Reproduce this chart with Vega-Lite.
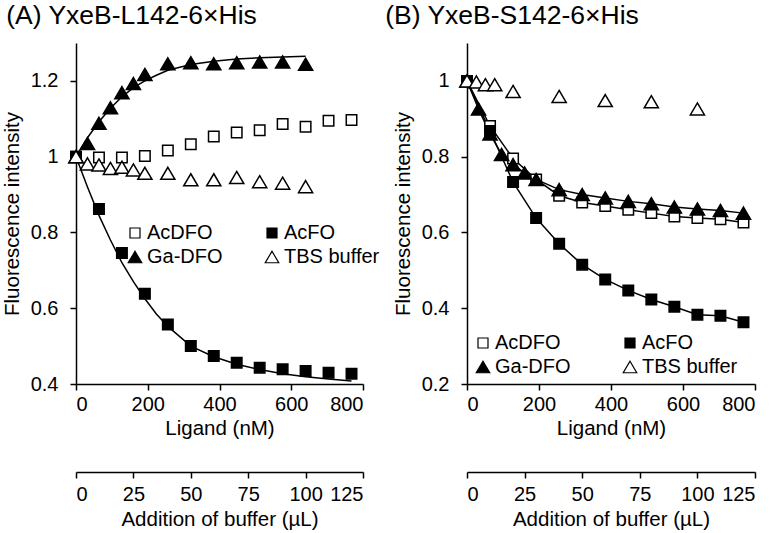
{
  "$schema": "https://vega.github.io/schema/vega-lite/v6.json",
  "padding": {"left": 2, "top": 2, "right": 2, "bottom": 2},
  "config": {
    "font": "Liberation Sans",
    "view": {"stroke": null},
    "axis": {
      "domainColor": "black", "domainWidth": 1.5, "tickColor": "black", "tickWidth": 1.5, "tickSize": 6,
      "labelFont": "Liberation Sans", "labelFontSize": 20, "labelColor": "black",
      "titleFont": "Liberation Sans", "titleFontSize": 20.5, "titleFontWeight": "normal", "titleColor": "black",
      "grid": false
    },
    "legend": {
      "title": null, "orient": "none", "columns": 2, "direction": "horizontal",
      "labelFont": "Liberation Sans", "labelFontSize": 20, "labelColor": "black",
      "symbolStrokeColor": "black", "symbolStrokeWidth": 1.2, "symbolSize": 100,
      "labelOffset": 2, "rowPadding": 4, "padding": 0
    },
    "title": {"font": "Liberation Sans", "fontSize": 26.5, "fontWeight": "normal", "anchor": "start", "color": "black"}
  },
  "datasets": {
    "pts": [
      {"panel": "A", "series": "AcDFO", "x": 0, "y": 1.0},
      {"panel": "A", "series": "AcDFO", "x": 64, "y": 0.998},
      {"panel": "A", "series": "AcDFO", "x": 128, "y": 0.998},
      {"panel": "A", "series": "AcDFO", "x": 192, "y": 1.002},
      {"panel": "A", "series": "AcDFO", "x": 256, "y": 1.016},
      {"panel": "A", "series": "AcDFO", "x": 320, "y": 1.033},
      {"panel": "A", "series": "AcDFO", "x": 384, "y": 1.053},
      {"panel": "A", "series": "AcDFO", "x": 448, "y": 1.064},
      {"panel": "A", "series": "AcDFO", "x": 512, "y": 1.07},
      {"panel": "A", "series": "AcDFO", "x": 576, "y": 1.086},
      {"panel": "A", "series": "AcDFO", "x": 640, "y": 1.079},
      {"panel": "A", "series": "AcDFO", "x": 704, "y": 1.095},
      {"panel": "A", "series": "AcDFO", "x": 768, "y": 1.097},
      {"panel": "A", "series": "AcFO", "x": 0, "y": 1.0},
      {"panel": "A", "series": "AcFO", "x": 64, "y": 0.862},
      {"panel": "A", "series": "AcFO", "x": 128, "y": 0.746},
      {"panel": "A", "series": "AcFO", "x": 192, "y": 0.638},
      {"panel": "A", "series": "AcFO", "x": 256, "y": 0.557},
      {"panel": "A", "series": "AcFO", "x": 320, "y": 0.5},
      {"panel": "A", "series": "AcFO", "x": 384, "y": 0.474},
      {"panel": "A", "series": "AcFO", "x": 448, "y": 0.456},
      {"panel": "A", "series": "AcFO", "x": 512, "y": 0.443},
      {"panel": "A", "series": "AcFO", "x": 576, "y": 0.439},
      {"panel": "A", "series": "AcFO", "x": 640, "y": 0.434},
      {"panel": "A", "series": "AcFO", "x": 704, "y": 0.43},
      {"panel": "A", "series": "AcFO", "x": 768, "y": 0.427},
      {"panel": "A", "series": "Ga-DFO", "x": 0, "y": 1.0},
      {"panel": "A", "series": "Ga-DFO", "x": 32, "y": 1.035},
      {"panel": "A", "series": "Ga-DFO", "x": 64, "y": 1.088},
      {"panel": "A", "series": "Ga-DFO", "x": 96, "y": 1.129},
      {"panel": "A", "series": "Ga-DFO", "x": 128, "y": 1.169},
      {"panel": "A", "series": "Ga-DFO", "x": 160, "y": 1.193},
      {"panel": "A", "series": "Ga-DFO", "x": 192, "y": 1.217},
      {"panel": "A", "series": "Ga-DFO", "x": 256, "y": 1.245},
      {"panel": "A", "series": "Ga-DFO", "x": 320, "y": 1.248},
      {"panel": "A", "series": "Ga-DFO", "x": 384, "y": 1.245},
      {"panel": "A", "series": "Ga-DFO", "x": 448, "y": 1.248},
      {"panel": "A", "series": "Ga-DFO", "x": 512, "y": 1.25},
      {"panel": "A", "series": "Ga-DFO", "x": 576, "y": 1.25},
      {"panel": "A", "series": "Ga-DFO", "x": 640, "y": 1.244},
      {"panel": "A", "series": "TBS buffer", "x": 0, "y": 1.0},
      {"panel": "A", "series": "TBS buffer", "x": 32, "y": 0.981},
      {"panel": "A", "series": "TBS buffer", "x": 64, "y": 0.978},
      {"panel": "A", "series": "TBS buffer", "x": 96, "y": 0.969},
      {"panel": "A", "series": "TBS buffer", "x": 128, "y": 0.972},
      {"panel": "A", "series": "TBS buffer", "x": 160, "y": 0.965},
      {"panel": "A", "series": "TBS buffer", "x": 192, "y": 0.956},
      {"panel": "A", "series": "TBS buffer", "x": 256, "y": 0.956},
      {"panel": "A", "series": "TBS buffer", "x": 320, "y": 0.939},
      {"panel": "A", "series": "TBS buffer", "x": 384, "y": 0.939},
      {"panel": "A", "series": "TBS buffer", "x": 448, "y": 0.945},
      {"panel": "A", "series": "TBS buffer", "x": 512, "y": 0.934},
      {"panel": "A", "series": "TBS buffer", "x": 576, "y": 0.93},
      {"panel": "A", "series": "TBS buffer", "x": 640, "y": 0.921},
      {"panel": "B", "series": "AcDFO", "x": 0, "y": 1.0},
      {"panel": "B", "series": "AcDFO", "x": 64, "y": 0.881},
      {"panel": "B", "series": "AcDFO", "x": 128, "y": 0.795},
      {"panel": "B", "series": "AcDFO", "x": 192, "y": 0.74},
      {"panel": "B", "series": "AcDFO", "x": 256, "y": 0.697},
      {"panel": "B", "series": "AcDFO", "x": 320, "y": 0.679},
      {"panel": "B", "series": "AcDFO", "x": 384, "y": 0.67},
      {"panel": "B", "series": "AcDFO", "x": 448, "y": 0.66},
      {"panel": "B", "series": "AcDFO", "x": 512, "y": 0.651},
      {"panel": "B", "series": "AcDFO", "x": 576, "y": 0.642},
      {"panel": "B", "series": "AcDFO", "x": 640, "y": 0.638},
      {"panel": "B", "series": "AcDFO", "x": 704, "y": 0.635},
      {"panel": "B", "series": "AcDFO", "x": 768, "y": 0.626},
      {"panel": "B", "series": "AcFO", "x": 0, "y": 1.0},
      {"panel": "B", "series": "AcFO", "x": 64, "y": 0.868},
      {"panel": "B", "series": "AcFO", "x": 128, "y": 0.733},
      {"panel": "B", "series": "AcFO", "x": 192, "y": 0.638},
      {"panel": "B", "series": "AcFO", "x": 256, "y": 0.57},
      {"panel": "B", "series": "AcFO", "x": 320, "y": 0.515},
      {"panel": "B", "series": "AcFO", "x": 384, "y": 0.476},
      {"panel": "B", "series": "AcFO", "x": 448, "y": 0.447},
      {"panel": "B", "series": "AcFO", "x": 512, "y": 0.423},
      {"panel": "B", "series": "AcFO", "x": 576, "y": 0.404},
      {"panel": "B", "series": "AcFO", "x": 640, "y": 0.383},
      {"panel": "B", "series": "AcFO", "x": 704, "y": 0.38},
      {"panel": "B", "series": "AcFO", "x": 768, "y": 0.363},
      {"panel": "B", "series": "Ga-DFO", "x": 0, "y": 1.0},
      {"panel": "B", "series": "Ga-DFO", "x": 32, "y": 0.926},
      {"panel": "B", "series": "Ga-DFO", "x": 64, "y": 0.86},
      {"panel": "B", "series": "Ga-DFO", "x": 96, "y": 0.806},
      {"panel": "B", "series": "Ga-DFO", "x": 128, "y": 0.779},
      {"panel": "B", "series": "Ga-DFO", "x": 160, "y": 0.757},
      {"panel": "B", "series": "Ga-DFO", "x": 192, "y": 0.74},
      {"panel": "B", "series": "Ga-DFO", "x": 256, "y": 0.713},
      {"panel": "B", "series": "Ga-DFO", "x": 320, "y": 0.7},
      {"panel": "B", "series": "Ga-DFO", "x": 384, "y": 0.691},
      {"panel": "B", "series": "Ga-DFO", "x": 448, "y": 0.682},
      {"panel": "B", "series": "Ga-DFO", "x": 512, "y": 0.676},
      {"panel": "B", "series": "Ga-DFO", "x": 576, "y": 0.667},
      {"panel": "B", "series": "Ga-DFO", "x": 640, "y": 0.662},
      {"panel": "B", "series": "Ga-DFO", "x": 704, "y": 0.658},
      {"panel": "B", "series": "Ga-DFO", "x": 768, "y": 0.651},
      {"panel": "B", "series": "TBS buffer", "x": 0, "y": 1.0},
      {"panel": "B", "series": "TBS buffer", "x": 26, "y": 0.997},
      {"panel": "B", "series": "TBS buffer", "x": 51, "y": 0.99},
      {"panel": "B", "series": "TBS buffer", "x": 77, "y": 0.99},
      {"panel": "B", "series": "TBS buffer", "x": 128, "y": 0.972},
      {"panel": "B", "series": "TBS buffer", "x": 256, "y": 0.959},
      {"panel": "B", "series": "TBS buffer", "x": 384, "y": 0.948},
      {"panel": "B", "series": "TBS buffer", "x": 512, "y": 0.945},
      {"panel": "B", "series": "TBS buffer", "x": 640, "y": 0.926}
    ],
    "fit": [
      {"series": "AcFO", "x": 0, "y": 1.0},
      {"series": "AcFO", "x": 32, "y": 0.92},
      {"series": "AcFO", "x": 64, "y": 0.845},
      {"series": "AcFO", "x": 96, "y": 0.78},
      {"series": "AcFO", "x": 128, "y": 0.72},
      {"series": "AcFO", "x": 160, "y": 0.67},
      {"series": "AcFO", "x": 192, "y": 0.625},
      {"series": "AcFO", "x": 224, "y": 0.585},
      {"series": "AcFO", "x": 256, "y": 0.552},
      {"series": "AcFO", "x": 320, "y": 0.5},
      {"series": "AcFO", "x": 384, "y": 0.472},
      {"series": "AcFO", "x": 448, "y": 0.452},
      {"series": "AcFO", "x": 512, "y": 0.438},
      {"series": "AcFO", "x": 576, "y": 0.427},
      {"series": "AcFO", "x": 640, "y": 0.419},
      {"series": "AcFO", "x": 704, "y": 0.413},
      {"series": "AcFO", "x": 768, "y": 0.408},
      {"series": "Ga-DFO", "x": 0, "y": 1.0},
      {"series": "Ga-DFO", "x": 32, "y": 1.05},
      {"series": "Ga-DFO", "x": 64, "y": 1.092},
      {"series": "Ga-DFO", "x": 96, "y": 1.128},
      {"series": "Ga-DFO", "x": 128, "y": 1.158},
      {"series": "Ga-DFO", "x": 160, "y": 1.182},
      {"series": "Ga-DFO", "x": 192, "y": 1.2},
      {"series": "Ga-DFO", "x": 224, "y": 1.215},
      {"series": "Ga-DFO", "x": 256, "y": 1.228},
      {"series": "Ga-DFO", "x": 320, "y": 1.243},
      {"series": "Ga-DFO", "x": 384, "y": 1.252},
      {"series": "Ga-DFO", "x": 448, "y": 1.258},
      {"series": "Ga-DFO", "x": 512, "y": 1.261},
      {"series": "Ga-DFO", "x": 576, "y": 1.263},
      {"series": "Ga-DFO", "x": 640, "y": 1.265}
    ],
    "buf": [{"b": 0}, {"b": 125}]
  },
  "spacing": 5,
  "resolve": {"legend": {"shape": "independent", "fill": "independent", "stroke": "independent"}},
  "hconcat": [
    {
      "title": {"text": "(A) YxeB-L142-6×His", "offset": 14, "dx": 4},
      "width": 287, "height": 341,
      "layer": [
        {
          "layer": [
            {
              "data": {"name": "fit"},
              "mark": {"type": "line", "color": "black", "strokeWidth": 1.5},
              "encoding": {
                "x": {"field": "x", "type": "quantitative", "scale": {"domain": [0, 800], "nice": false}, "axis": {"values": [0, 200, 400, 600, 800], "title": "Ligand (nM)", "labelPadding": 4, "titlePadding": 4}},
                "y": {"field": "y", "type": "quantitative", "scale": {"domain": [0.4, 1.3], "nice": false, "zero": false}, "axis": {"values": [0.4, 0.6, 0.8, 1, 1.2], "format": "~g", "title": "Fluorescence intensity", "labelPadding": 12, "titlePadding": 8}},
                "detail": {"field": "series"}
              }
            },
            {
              "data": {"name": "pts"},
              "transform": [{"filter": "datum.panel === 'A'"}],
              "mark": {"type": "point", "filled": true, "strokeWidth": 1.5, "opacity": 1, "size": 110},
              "encoding": {
                "x": {"field": "x", "type": "quantitative"},
                "y": {"field": "y", "type": "quantitative"},
                "shape": {"field": "series", "type": "nominal", "scale": {"domain": ["AcDFO", "AcFO", "Ga-DFO", "TBS buffer"], "range": ["square", "square", "M0,-1.15L1.35,1.15L-1.35,1.15Z", "M0,-1.15L1.35,1.15L-1.35,1.15Z"]}, "legend": {"legendX": 49, "legendY": 180, "columnPadding": 39}},
                "fill": {"field": "series", "type": "nominal", "scale": {"domain": ["AcDFO", "AcFO", "Ga-DFO", "TBS buffer"], "range": ["white", "black", "black", "white"]}, "legend": {"legendX": 49, "legendY": 180, "columnPadding": 39}},
                "stroke": {"field": "series", "type": "nominal", "scale": {"domain": ["AcDFO", "AcFO", "Ga-DFO", "TBS buffer"], "range": ["black", "black", "black", "black"]}, "legend": {"legendX": 49, "legendY": 180, "columnPadding": 39}}
              }
            }
          ]
        },
        {
          "data": {"name": "buf"},
          "mark": {"type": "point", "opacity": 0},
          "encoding": {
            "x": {"field": "b", "type": "quantitative", "scale": {"domain": [0, 125], "nice": false}, "axis": {"orient": "bottom", "offset": 88, "values": [0, 25, 50, 75, 100, 125], "title": "Addition of buffer (µL)", "labelPadding": 6, "titlePadding": 5}}
          }
        }
      ],
      "resolve": {"scale": {"x": "independent"}}
    },
    {
      "title": {"text": "(B) YxeB-S142-6×His", "offset": 14, "dx": -8},
      "width": 288, "height": 341,
      "layer": [
        {
          "layer": [
            {
              "data": {"name": "pts"},
              "transform": [{"filter": "datum.panel === 'B' && datum.series !== 'TBS buffer'"}],
              "mark": {"type": "line", "color": "black", "strokeWidth": 1.5},
              "encoding": {
                "x": {"field": "x", "type": "quantitative", "scale": {"domain": [0, 800], "nice": false}, "axis": {"values": [0, 200, 400, 600, 800], "title": "Ligand (nM)", "labelPadding": 4, "titlePadding": 4}},
                "y": {"field": "y", "type": "quantitative", "scale": {"domain": [0.2, 1.1], "nice": false, "zero": false}, "axis": {"values": [0.2, 0.4, 0.6, 0.8, 1], "format": "~g", "title": "Fluorescence intensity", "labelPadding": 12, "titlePadding": 8}},
                "detail": {"field": "series"}
              }
            },
            {
              "data": {"name": "pts"},
              "transform": [{"filter": "datum.panel === 'B'"}],
              "mark": {"type": "point", "filled": true, "strokeWidth": 1.5, "opacity": 1, "size": 110},
              "encoding": {
                "x": {"field": "x", "type": "quantitative"},
                "y": {"field": "y", "type": "quantitative"},
                "shape": {"field": "series", "type": "nominal", "scale": {"domain": ["AcDFO", "AcFO", "Ga-DFO", "TBS buffer"], "range": ["square", "square", "M0,-1.15L1.35,1.15L-1.35,1.15Z", "M0,-1.15L1.35,1.15L-1.35,1.15Z"]}, "legend": {"legendX": 6, "legendY": 290, "columnPadding": 49}},
                "fill": {"field": "series", "type": "nominal", "scale": {"domain": ["AcDFO", "AcFO", "Ga-DFO", "TBS buffer"], "range": ["white", "black", "black", "white"]}, "legend": {"legendX": 6, "legendY": 290, "columnPadding": 49}},
                "stroke": {"field": "series", "type": "nominal", "scale": {"domain": ["AcDFO", "AcFO", "Ga-DFO", "TBS buffer"], "range": ["black", "black", "black", "black"]}, "legend": {"legendX": 6, "legendY": 290, "columnPadding": 49}}
              }
            }
          ]
        },
        {
          "data": {"name": "buf"},
          "mark": {"type": "point", "opacity": 0},
          "encoding": {
            "x": {"field": "b", "type": "quantitative", "scale": {"domain": [0, 125], "nice": false}, "axis": {"orient": "bottom", "offset": 88, "values": [0, 25, 50, 75, 100, 125], "title": "Addition of buffer (µL)", "labelPadding": 6, "titlePadding": 5}}
          }
        }
      ],
      "resolve": {"scale": {"x": "independent"}}
    }
  ]
}
